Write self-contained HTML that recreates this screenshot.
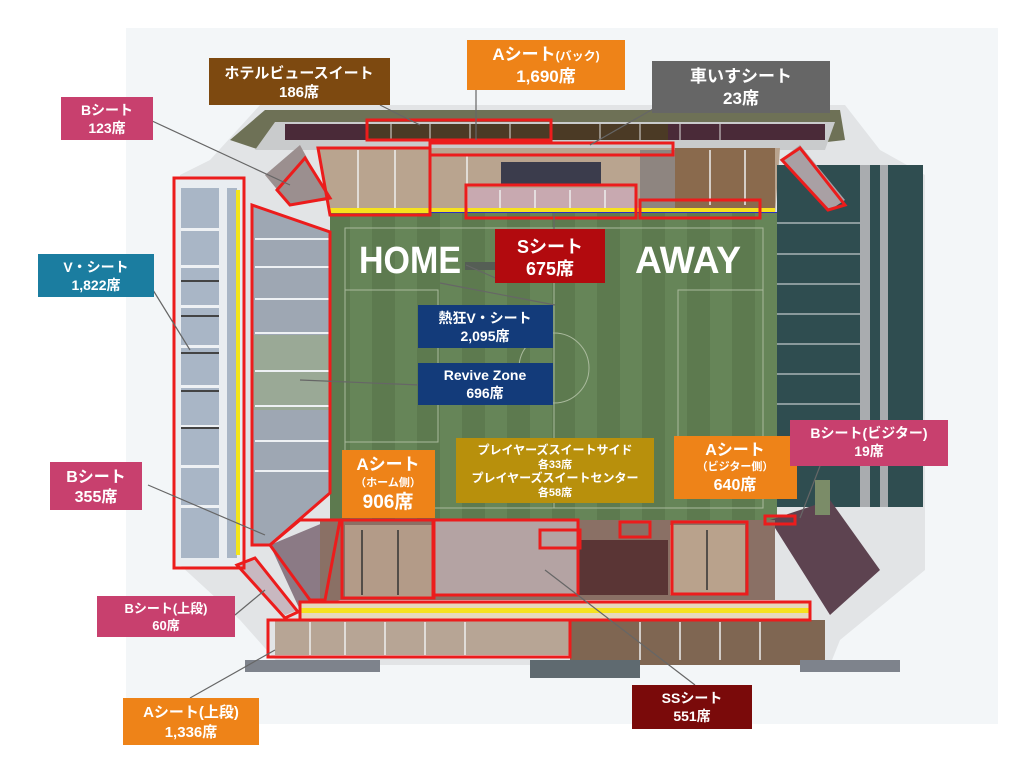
<!DOCTYPE html>
<html><head><meta charset="utf-8"><style>
html,body{margin:0;padding:0;background:#fff;}
svg{display:block;}
text{font-family:"Liberation Sans","Noto Sans CJK JP",sans-serif;font-weight:bold;fill:#fff;text-anchor:middle;}
</style></head><body>
<svg width="1024" height="782" viewBox="0 0 1024 782" xmlns="http://www.w3.org/2000/svg">
<rect width="1024" height="782" fill="#fff"/>
<rect x="126" y="28" width="872" height="696" fill="#f3f6f8"/>
<polygon points="210,160 260,105 845,105 880,150 925,175 925,570 840,640 830,665 280,665 240,620 180,565 180,175" fill="#e2e4e6"/>
<polygon points="230,140 265,110 840,110 845,140 800,145 260,150" fill="#6e7156"/>
<polygon points="255,150 275,122 835,122 825,150" fill="#c9cbcc"/>
<rect x="285" y="124" width="540" height="16" fill="#4a2a38"/>
<rect x="368" y="124" width="300" height="16" fill="#4b3a25"/>
<g stroke="#ddd" stroke-width="1"><line x1="391" y1="124" x2="391" y2="140"/><line x1="430" y1="124" x2="430" y2="140"/><line x1="470" y1="124" x2="470" y2="140"/><line x1="510" y1="124" x2="510" y2="140"/><line x1="550" y1="124" x2="550" y2="140"/><line x1="600" y1="124" x2="600" y2="140"/><line x1="640" y1="124" x2="640" y2="140"/><line x1="680" y1="124" x2="680" y2="140"/><line x1="720" y1="124" x2="720" y2="140"/></g>
<polygon points="318,148 780,148 775,215 330,215" fill="#b9a48f"/>
<rect x="675" y="148" width="100" height="60" fill="#8a6a4d"/>
<rect x="640" y="150" width="35" height="58" fill="#8e8580"/>
<rect x="468" y="188" width="168" height="28" fill="#c8a9b0"/>
<rect x="501" y="162" width="100" height="22" fill="#3b3c4c"/>
<g stroke="#eee" stroke-width="1.5"><line x1="358" y1="150" x2="358" y2="210"/><line x1="395" y1="150" x2="395" y2="210"/><line x1="467" y1="155" x2="467" y2="210"/><line x1="500" y1="190" x2="500" y2="215"/><line x1="535" y1="190" x2="535" y2="215"/><line x1="570" y1="190" x2="570" y2="215"/><line x1="605" y1="190" x2="605" y2="215"/><line x1="710" y1="150" x2="710" y2="205"/><line x1="745" y1="150" x2="745" y2="205"/></g>
<rect x="330" y="208" width="445" height="5" fill="#f6e21e"/>
<rect x="430" y="212" width="350" height="4" fill="#2b2ec3"/>
<rect x="330" y="213" width="447" height="308" fill="#5d7a4f"/>
<g fill="#668558">
<rect x="350" y="213" width="22" height="308"/><rect x="395" y="213" width="22" height="308"/><rect x="440" y="213" width="22" height="308"/><rect x="485" y="213" width="22" height="308"/><rect x="530" y="213" width="22" height="308"/><rect x="575" y="213" width="22" height="308"/><rect x="620" y="213" width="22" height="308"/><rect x="665" y="213" width="22" height="308"/><rect x="710" y="213" width="22" height="308"/><rect x="755" y="213" width="22" height="308"/>
</g>
<g fill="none" stroke="#a9b99c" stroke-width="1">
<rect x="345" y="228" width="418" height="280"/>
<line x1="554" y1="228" x2="554" y2="508"/>
<circle cx="554" cy="368" r="35"/>
<rect x="345" y="290" width="93" height="152"/>
<rect x="678" y="290" width="85" height="152"/>
</g>
<text x="410" y="273" font-size="38" font-weight="normal" textLength="102" lengthAdjust="spacingAndGlyphs">HOME</text>
<text x="688" y="273" font-size="38" font-weight="normal" textLength="106" lengthAdjust="spacingAndGlyphs">AWAY</text>
<rect x="465" y="262" width="32" height="8" fill="#555e55"/>
<rect x="175" y="178" width="68" height="388" fill="#e9edf1"/>
<g fill="#a9b6c6">
<rect x="181" y="188" width="38" height="370"/><rect x="227" y="188" width="10" height="370"/>
</g>
<g fill="#eef1f4"><rect x="181" y="228" width="38" height="3"/><rect x="181" y="265" width="38" height="3"/><rect x="181" y="305" width="38" height="3"/><rect x="181" y="345" width="38" height="3"/><rect x="181" y="385" width="38" height="3"/><rect x="181" y="425" width="38" height="3"/><rect x="181" y="465" width="38" height="3"/><rect x="181" y="505" width="38" height="3"/></g>
<g fill="#444"><rect x="181" y="280" width="38" height="2"/><rect x="181" y="315" width="38" height="2"/><rect x="181" y="352" width="38" height="2"/><rect x="181" y="390" width="38" height="2"/><rect x="181" y="427" width="38" height="2"/></g>
<rect x="236" y="190" width="4" height="365" fill="#f3e51a"/>
<polygon points="252,205 330,232 330,493 270,545 252,545" fill="#9ea7b3"/>
<rect x="252" y="335" width="78" height="75" fill="#9aa996"/>
<g fill="#eef1f4"><rect x="255" y="238" width="75" height="2"/><rect x="255" y="266" width="75" height="2"/><rect x="255" y="298" width="75" height="2"/><rect x="255" y="332" width="75" height="2"/><rect x="255" y="370" width="75" height="2"/><rect x="255" y="405" width="75" height="2"/><rect x="255" y="440" width="75" height="2"/><rect x="255" y="470" width="75" height="2"/></g>
<polygon points="265,175 300,145 330,200 290,205" fill="#9b8f8f"/>
<polygon points="270,545 330,520 340,600 300,610" fill="#8b7a85"/>
<polygon points="235,565 255,560 298,610 285,615" fill="#c8b8c0"/>
<rect x="777" y="165" width="146" height="342" fill="#2f4d50"/>
<rect x="860" y="165" width="10" height="342" fill="#a9acaf"/>
<rect x="880" y="165" width="8" height="342" fill="#a9acaf"/>
<g fill="#8a9a9c"><rect x="777" y="222" width="83" height="2"/><rect x="777" y="253" width="83" height="2"/><rect x="777" y="283" width="83" height="2"/><rect x="777" y="313" width="83" height="2"/><rect x="777" y="343" width="83" height="2"/><rect x="777" y="373" width="83" height="2"/><rect x="777" y="403" width="83" height="2"/></g>
<polygon points="780,160 800,145 845,200 830,210" fill="#a9a0a4"/>
<polygon points="770,520 830,500 880,570 830,615" fill="#5d4350"/>
<rect x="815" y="480" width="15" height="35" fill="#7b8c68"/>
<rect x="320" y="520" width="455" height="80" fill="#8a7065"/>
<rect x="345" y="525" width="88" height="72" fill="#b39b88"/>
<rect x="433" y="520" width="145" height="75" fill="#b4a3a3"/>
<rect x="578" y="540" width="90" height="55" fill="#5a3535"/>
<rect x="670" y="525" width="75" height="70" fill="#b9a28c"/>
<g stroke="#333" stroke-width="1.5"><line x1="362" y1="530" x2="362" y2="595"/><line x1="398" y1="530" x2="398" y2="595"/><line x1="707" y1="530" x2="707" y2="590"/></g>
<rect x="300" y="602" width="510" height="18" fill="#e6d9bc"/>
<rect x="300" y="608" width="510" height="5" fill="#f6e21e"/>
<rect x="275" y="620" width="295" height="35" fill="#b7a595"/>
<rect x="570" y="620" width="255" height="45" fill="#7f6652"/>
<g stroke="#eee" stroke-width="1.5"><line x1="310" y1="622" x2="310" y2="655"/><line x1="345" y1="622" x2="345" y2="655"/><line x1="385" y1="622" x2="385" y2="655"/><line x1="425" y1="622" x2="425" y2="655"/><line x1="465" y1="622" x2="465" y2="655"/><line x1="640" y1="622" x2="640" y2="660"/><line x1="680" y1="622" x2="680" y2="660"/><line x1="720" y1="622" x2="720" y2="660"/><line x1="760" y1="622" x2="760" y2="660"/></g>
<rect x="245" y="660" width="135" height="12" fill="#7e838c"/>
<rect x="530" y="660" width="110" height="18" fill="#5f6a70"/>
<rect x="800" y="660" width="100" height="12" fill="#7e838c"/>
<g fill="none" stroke="#ec1c1c" stroke-width="3">
<rect x="367" y="120" width="184" height="20"/>
<polygon points="318,148 430,148 430,215 330,215"/>
<rect x="430" y="143" width="243" height="12"/>
<rect x="466" y="185" width="170" height="33"/>
<rect x="640" y="200" width="120" height="18"/>
<polygon points="277,190 305,158 330,198 290,205"/>
<polygon points="782,160 800,148 845,205 828,210"/>
<rect x="174" y="178" width="70" height="390"/>
<polygon points="252,205 330,232 330,493 270,545 252,545"/>
<polygon points="270,545 300,520 340,520 325,600 310,600"/>
<rect x="342" y="520" width="92" height="78"/>
<rect x="433" y="520" width="145" height="75"/>
<rect x="540" y="530" width="40" height="18"/>
<rect x="620" y="522" width="30" height="15"/>
<rect x="672" y="522" width="75" height="72"/>
<rect x="765" y="516" width="30" height="8"/>
<polygon points="237,565 255,558 298,612 285,618"/>
<rect x="300" y="602" width="510" height="18"/>
<rect x="268" y="620" width="302" height="37"/>
</g>
<g stroke="#666" stroke-width="1.2" fill="none">
<line x1="150" y1="120" x2="290" y2="185"/>
<line x1="380" y1="105" x2="420" y2="125"/>
<line x1="476" y1="90" x2="476" y2="140"/>
<line x1="660" y1="105" x2="590" y2="145"/>
<line x1="153" y1="290" x2="190" y2="350"/>
<line x1="148" y1="485" x2="265" y2="535"/>
<line x1="235" y1="615" x2="265" y2="590"/>
<line x1="190" y1="698" x2="275" y2="650"/>
<line x1="695" y1="685" x2="545" y2="570"/>
<line x1="820" y1="466" x2="800" y2="518"/>
<line x1="555" y1="305" x2="440" y2="283"/>
<line x1="500" y1="280" x2="466" y2="265"/>
<line x1="554" y1="213" x2="554" y2="229"/>
<line x1="420" y1="385" x2="300" y2="380"/>
</g>
<rect x="209" y="58" width="181" height="47" fill="#7d4910"/>
<text x="299" y="78" font-size="15">ホテルビュースイート</text>
<text x="299" y="97" font-size="15">186席</text>
<rect x="467" y="40" width="158" height="50" fill="#ee8318"/>
<text x="546" y="60" font-size="17">Aシート<tspan font-size="12">(バック)</tspan></text>
<text x="546" y="82" font-size="17">1,690席</text>
<rect x="652" y="61" width="178" height="52" fill="#666"/>
<text x="741" y="82" font-size="17">車いすシート</text>
<text x="741" y="104" font-size="17">23席</text>
<rect x="61" y="97" width="92" height="43" fill="#c8406e"/>
<text x="107" y="115" font-size="14">Bシート</text>
<text x="107" y="133" font-size="14">123席</text>
<rect x="38" y="254" width="116" height="43" fill="#1b7da0"/>
<text x="96" y="272" font-size="14">V・シート</text>
<text x="96" y="290" font-size="14">1,822席</text>
<rect x="495" y="229" width="110" height="54" fill="#b20a0e"/>
<text x="550" y="253" font-size="18">Sシート</text>
<text x="550" y="275" font-size="18">675席</text>
<rect x="418" y="305" width="135" height="43" fill="#133b7a"/>
<text x="485" y="323" font-size="14">熱狂V・シート</text>
<text x="485" y="341" font-size="14">2,095席</text>
<rect x="418" y="363" width="135" height="42" fill="#133b7a"/>
<text x="485" y="380" font-size="14">Revive Zone</text>
<text x="485" y="398" font-size="14">696席</text>
<rect x="50" y="462" width="92" height="48" fill="#c8406e"/>
<text x="96" y="482" font-size="16">Bシート</text>
<text x="96" y="502" font-size="16">355席</text>
<rect x="342" y="450" width="93" height="68" fill="#ee8318"/>
<text x="388" y="470" font-size="17">Aシート</text>
<text x="388" y="486" font-size="11">（ホーム側）</text>
<text x="388" y="508" font-size="19">906席</text>
<rect x="456" y="438" width="198" height="65" fill="#b8900c"/>
<text x="555" y="454" font-size="12">プレイヤーズスイートサイド</text>
<text x="555" y="468" font-size="11">各33席</text>
<text x="555" y="482" font-size="12">プレイヤーズスイートセンター</text>
<text x="555" y="496" font-size="11">各58席</text>
<rect x="674" y="436" width="123" height="63" fill="#ee8318"/>
<text x="735" y="455" font-size="16">Aシート</text>
<text x="735" y="470" font-size="11">（ビジター側）</text>
<text x="735" y="490" font-size="16">640席</text>
<rect x="790" y="420" width="158" height="46" fill="#c8406e"/>
<text x="869" y="438" font-size="14">Bシート(ビジター)</text>
<text x="869" y="456" font-size="14">19席</text>
<rect x="97" y="596" width="138" height="41" fill="#c8406e"/>
<text x="166" y="613" font-size="13">Bシート(上段)</text>
<text x="166" y="630" font-size="13">60席</text>
<rect x="123" y="698" width="136" height="47" fill="#ee8318"/>
<text x="191" y="717" font-size="15">Aシート(上段)</text>
<text x="191" y="737" font-size="15">1,336席</text>
<rect x="632" y="685" width="120" height="44" fill="#7a0a0a"/>
<text x="692" y="703" font-size="14">SSシート</text>
<text x="692" y="721" font-size="14">551席</text>
</svg>
</body></html>
